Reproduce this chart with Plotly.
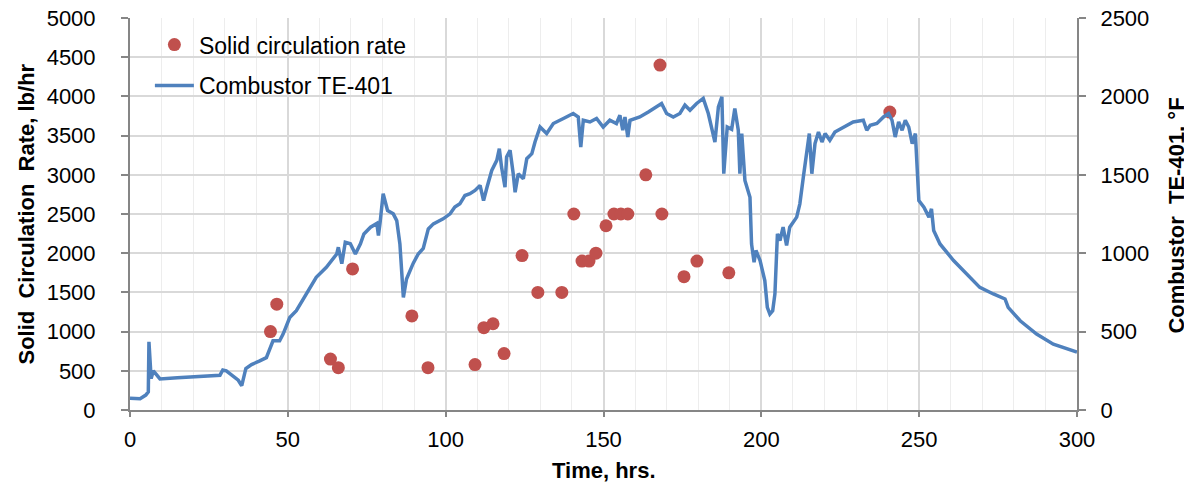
import plotly.graph_objects as go

# Solid circulation rate (lb/hr) vs time (hrs)
scr_time = [44.5, 46.5, 63.5, 66.0, 70.5, 89.3, 94.4, 109.3, 112.1, 115.0, 118.5,
            124.2, 129.2, 136.8, 140.6, 143.2, 145.4, 147.6, 150.8, 153.3, 155.5,
            157.7, 163.4, 167.9, 168.5, 175.5, 179.6, 189.7, 240.7]
scr_rate = [1000, 1350, 650, 540, 1800, 1200, 540, 580, 1050, 1100, 720,
            1970, 1500, 1500, 2500, 1900, 1900, 2000, 2350, 2500, 2500,
            2500, 3000, 4400, 2500, 1700, 1900, 1750, 3800]

# Combustor TE-401 temperature (°F) vs time (hrs)
te_time = [0, 3.2, 5.0, 5.8, 6.0, 6.4, 6.7, 7.4, 8.4, 9.5, 15, 20, 25, 28.5, 29.4, 30.5,
           34.3, 35.4, 36.7, 38.5, 41.1, 43.2, 45.3, 47.4, 48.5, 50.6, 52.7, 55.8, 59.0,
           62.2, 65.5, 66.0, 67.1, 68.2, 69.8, 71.4, 73.0, 74.1, 76.2, 78.2, 78.7, 79.2,
           80.2, 81.6, 83.4, 84.5, 85.5, 86.6, 87.6, 89.7, 91.3, 92.9, 94.5, 96.1, 99.2,
           101.4, 102.9, 104.5, 106.1, 107.7, 109.3, 110.9, 112.0, 113.1, 114.6, 116.2,
           117.0, 117.7, 118.8, 119.3, 120.4, 121.4, 122.0, 123.0, 124.6, 125.7, 127.3,
           128.3, 129.9, 132.0, 134.1, 137.3, 140.4, 142.0, 142.8, 143.6, 145.7, 147.8,
           149.9, 152.0, 154.1, 155.2, 156.1, 156.8, 157.7, 158.4, 161.5, 164.2, 166.8,
           168.4, 170.0, 172.1, 174.2, 175.8, 177.4, 179.5, 181.6, 183.2, 185.3, 186.4,
           187.5, 188.1, 189.2, 190.6, 191.6, 192.7, 193.2, 193.8, 194.8, 196.4, 196.9,
           197.7, 198.3, 199.6, 201.1, 201.9, 202.7, 203.6, 204.3, 205.1, 205.9, 206.9,
           208.0, 209.0, 211.2, 212.2, 213.3, 214.3, 215.2, 216.0, 217.0, 218.1, 219.2,
           220.2, 221.7, 223.3, 226.0, 229.1, 232.3, 233.4, 234.5, 236.6, 238.7, 240.3,
           241.4, 242.4, 243.5, 244.6, 245.6, 246.7, 247.8, 248.8, 249.9, 251.5, 253.1,
           253.9, 254.6, 256.6, 260.9, 265.1, 269.2, 273.5, 277.2, 278.2, 282.0, 287.2,
           292.5, 300.0]
te_temp = [75, 72, 95, 115, 435, 250, 200, 250, 228, 198, 205, 210, 215, 222, 255, 250,
           190, 155, 265, 290, 313, 334, 441, 441, 484, 590, 633, 740, 846,
           910, 995, 1038, 933, 1070, 1060, 995, 1060, 1123, 1166, 1190, 1113, 1190,
           1379, 1272, 1251, 1208, 1059, 718, 835, 935, 995, 1030, 1155, 1187, 1219,
           1251, 1294, 1315, 1368, 1379, 1400, 1432, 1336, 1421, 1528, 1592,
           1667, 1549, 1421, 1613, 1656, 1507, 1389, 1507, 1475, 1603, 1635,
           1709, 1805, 1763, 1827, 1859, 1891, 1869, 1677, 1848, 1837, 1859,
           1805, 1848, 1827, 1880, 1784, 1869, 1741, 1848, 1869, 1901, 1933,
           1955, 1891, 1869, 1891, 1944, 1912, 1955, 1987, 1891, 1709, 1933,
           1997, 1507, 1805, 1790, 1923, 1784, 1507, 1763, 1464, 1357, 1059,
           942, 1017, 953, 825, 654, 612, 633, 740, 1123, 1081, 1166,
           1049, 1166, 1230, 1315, 1485, 1656, 1763, 1507, 1699, 1773, 1709,
           1763, 1720, 1773, 1805, 1837, 1848, 1784, 1816, 1827, 1869, 1891,
           1848, 1741, 1837, 1784, 1848, 1805, 1699, 1763, 1336, 1294, 1230,
           1283, 1145, 1059, 953, 868, 782, 740, 708, 654, 569, 484,
           420, 370]

FONT = "Liberation Sans, Arial, sans-serif"
AXIS_COLOR = "#868686"

fig = go.Figure()
fig.add_trace(go.Scatter(
    x=scr_time, y=scr_rate, mode="markers", name="Solid circulation rate",
    legendgroup="a",
    marker=dict(color="#C0504D", size=13, line=dict(width=0)), yaxis="y"))
fig.add_trace(go.Scatter(
    x=te_time, y=te_temp, mode="lines", name="Combustor TE-401",
    legendgroup="b",
    line=dict(color="#4F81BD", width=3.5), yaxis="y2"))

# page body has an 8px default margin, so the figure is 8px smaller on each axis
fig.update_layout(
    width=1184, height=475,
    margin=dict(l=122, r=115, t=10, b=73, autoexpand=False),
    paper_bgcolor="white", plot_bgcolor="white",
    font=dict(family=FONT, size=22, color="#000000"),
    showlegend=True,
    legend=dict(x=0.021, y=0.987, xanchor="left", yanchor="top",
                bgcolor="rgba(0,0,0,0)", font=dict(size=23),
                traceorder="grouped", tracegroupgap=8, itemwidth=39),
    xaxis=dict(range=[0, 300], dtick=50, tick0=0, showgrid=True,
               gridcolor="#D9D9D9", gridwidth=1.5,
               minor=dict(dtick=10, showgrid=True, gridcolor="#EDEDED", gridwidth=1.2),
               showline=True, linecolor=AXIS_COLOR, linewidth=2,
               ticks="outside", ticklen=5, tickcolor=AXIS_COLOR, tickwidth=1.5,
               zeroline=False, tickfont=dict(size=22), ticklabelstandoff=4,
               automargin=False),
    yaxis=dict(range=[0, 5000], dtick=500, tick0=0, showgrid=True,
               gridcolor="#D9D9D9", gridwidth=1.5,
               showline=True, linecolor=AXIS_COLOR, linewidth=2,
               ticks="outside", ticklen=7, tickcolor=AXIS_COLOR, tickwidth=1.5,
               zeroline=False, tickfont=dict(size=22), ticklabelstandoff=21,
               ticklabeloverflow="allow", automargin=False),
    yaxis2=dict(range=[0, 2500], dtick=500, tick0=0, overlaying="y", side="right",
                showgrid=False, showline=True, linecolor=AXIS_COLOR, linewidth=2,
                ticks="outside", ticklen=7, tickcolor=AXIS_COLOR, tickwidth=1.5,
                zeroline=False, tickfont=dict(size=22), ticklabelstandoff=10,
                ticklabeloverflow="allow", automargin=False),
    annotations=[
        dict(text="<b>Solid\u00a0 Circulation\u00a0 Rate, lb/hr</b>", xref="paper", yref="paper",
             x=-0.1098, y=0.4987, textangle=-90, showarrow=False,
             font=dict(size=22, family=FONT), xanchor="center", yanchor="middle"),
        dict(text="<b>Combustor\u00a0 TE-401, °F</b>", xref="paper", yref="paper",
             x=1.1056, y=0.496, textangle=-90, showarrow=False,
             font=dict(size=22, family=FONT), xanchor="center", yanchor="middle"),
        dict(text="<b>Time, hrs.</b>", xref="paper", yref="paper",
             x=0.5007, y=-0.154, showarrow=False,
             font=dict(size=22, family=FONT), xanchor="center", yanchor="middle"),
    ],
)

fig.write_html("out.html")
